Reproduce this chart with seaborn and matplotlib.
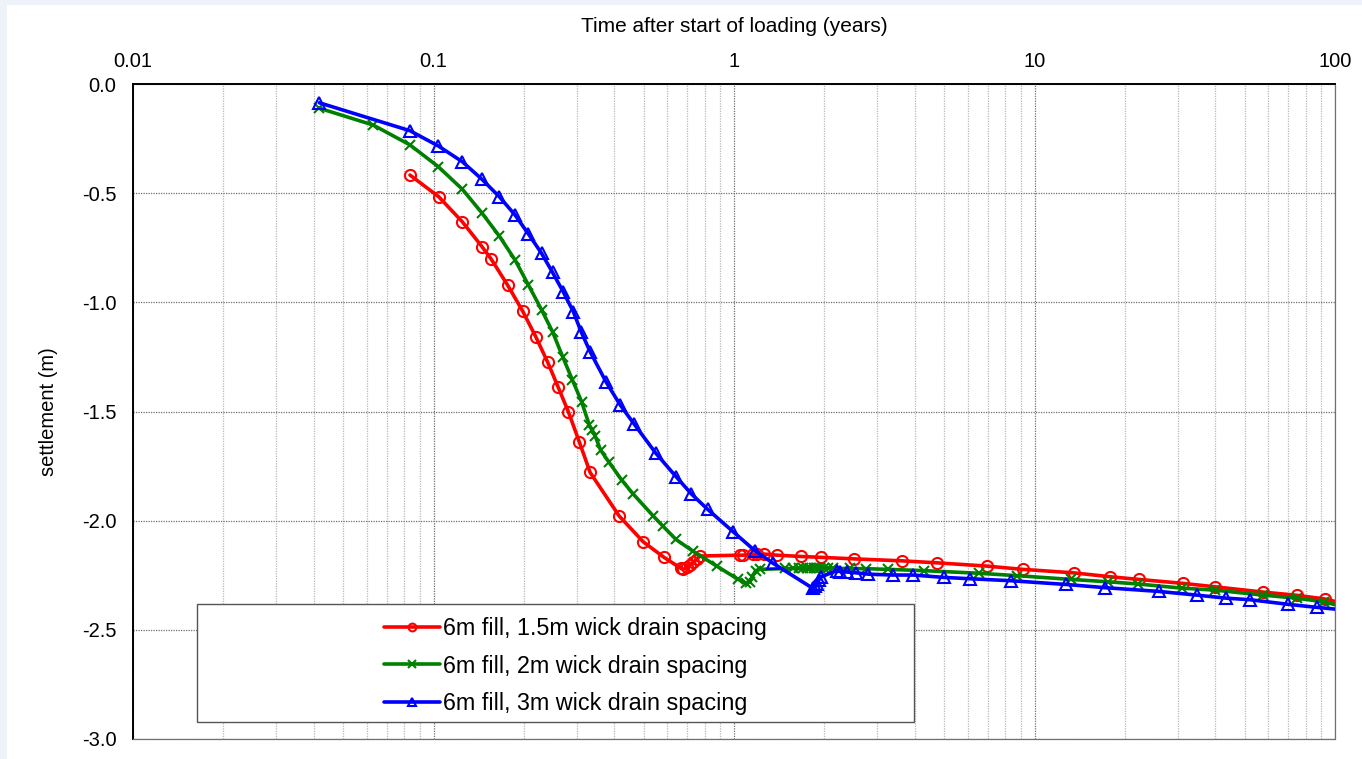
import matplotlib
matplotlib.use("Agg")
import matplotlib.pyplot as plt
import seaborn as sns
import pandas as pd
from matplotlib.patches import Rectangle
from matplotlib.ticker import FixedLocator, FixedFormatter, LogLocator, NullFormatter

# ---------------- data ----------------
red_t = [0.0835, 0.104, 0.1247, 0.145, 0.1556, 0.1766, 0.198, 0.219, 0.240, 0.260, 0.281, 0.306,
         0.332, 0.415, 0.499, 0.585, 0.667, 0.678, 0.696, 0.714, 0.733, 0.752, 0.771, 1.048, 1.074,
         1.154, 1.19, 1.26, 1.39, 1.67, 1.95, 2.51, 3.62, 4.72, 6.93, 9.13, 13.5, 17.9, 22.2, 31.1,
         39.9, 57.5, 74.9, 92.7, 100]
red_s = [-0.417, -0.516, -0.631, -0.745, -0.802, -0.922, -1.040, -1.158, -1.275, -1.389, -1.501,
         -1.641, -1.779, -1.979, -2.097, -2.168, -2.219, -2.223, -2.214, -2.203, -2.191, -2.176,
         -2.162, -2.158, -2.158, -2.154, -2.154, -2.153, -2.158, -2.164, -2.168, -2.175, -2.184,
         -2.193, -2.208, -2.223, -2.239, -2.257, -2.269, -2.287, -2.303, -2.327, -2.342, -2.359, -2.37]

green_t = [0.0417, 0.063, 0.0835, 0.1038, 0.1247, 0.1446, 0.1655, 0.1868, 0.207, 0.229, 0.249,
           0.269, 0.290, 0.311, 0.330, 0.337, 0.345, 0.360, 0.384, 0.423, 0.462, 0.539, 0.580,
           0.641, 0.729, 0.876, 1.033, 1.10, 1.13, 1.15, 1.18, 1.22, 1.48, 1.57, 1.64, 1.70, 1.75,
           1.79, 1.84, 1.89, 1.93, 1.99, 2.06, 2.14, 2.43, 2.75, 3.26, 4.3, 6.55, 8.77, 13.2, 17.6,
           22.1, 30.9, 39.9, 57.5, 74.6, 92.1, 100]
green_s = [-0.111, -0.188, -0.279, -0.379, -0.482, -0.589, -0.696, -0.806, -0.921, -1.035, -1.135,
           -1.249, -1.356, -1.455, -1.562, -1.585, -1.612, -1.677, -1.733, -1.814, -1.878, -1.979,
           -2.025, -2.086, -2.139, -2.208, -2.269, -2.287, -2.280, -2.257, -2.229, -2.223, -2.219,
           -2.219, -2.219, -2.219, -2.219, -2.219, -2.219, -2.219, -2.219, -2.219, -2.219, -2.219,
           -2.219, -2.220, -2.223, -2.229, -2.241, -2.252, -2.269, -2.280, -2.290, -2.309, -2.318,
           -2.341, -2.355, -2.372, -2.385]

blue_t = [0.0417, 0.0835, 0.1038, 0.1247, 0.1446, 0.1655, 0.1868, 0.207, 0.229, 0.249, 0.270,
          0.292, 0.310, 0.332, 0.375, 0.418, 0.465, 0.550, 0.641, 0.722, 0.817, 0.994, 1.175,
          1.352, 1.83, 1.86, 1.89, 1.92, 1.95, 2.20, 2.25, 2.37, 2.55, 2.80, 3.37, 3.94, 5.01,
          6.11, 8.33, 12.7, 17.2, 25.9, 34.7, 43.5, 52.1, 69.7, 86.9, 100]
blue_s = [-0.086, -0.214, -0.284, -0.356, -0.435, -0.516, -0.600, -0.687, -0.776, -0.863, -0.951,
          -1.043, -1.135, -1.226, -1.364, -1.470, -1.557, -1.692, -1.798, -1.878, -1.948, -2.051,
          -2.138, -2.196, -2.310, -2.300, -2.290, -2.270, -2.257, -2.229, -2.233, -2.235, -2.239,
          -2.245, -2.249, -2.249, -2.260, -2.266, -2.275, -2.292, -2.307, -2.324, -2.341, -2.355,
          -2.362, -2.383, -2.397, -2.405]

labels = ["6m fill, 1.5m wick drain spacing",
          "6m fill, 2m wick drain spacing",
          "6m fill, 3m wick drain spacing"]
x_ticks = [0.01, 0.1, 1, 10, 100]
x_ticklabels = ["0.01", "0.1", "1", "10", "100"]
y_ticks = [0.0, -0.5, -1.0, -1.5, -2.0, -2.5, -3.0]
y_ticklabels = ["0.0", "-0.5", "-1.0", "-1.5", "-2.0", "-2.5", "-3.0"]

# ---------------- style ----------------
sns.set_theme(style="white")
plt.rcParams['font.family'] = ['Liberation Sans', 'DejaVu Sans']
plt.rcParams['axes.unicode_minus'] = False
plt.rcParams['text.color'] = 'black'
plt.rcParams['axes.labelcolor'] = 'black'
plt.rcParams['xtick.color'] = 'black'
plt.rcParams['ytick.color'] = 'black'

fig = plt.figure(figsize=(13.62, 7.59), dpi=100, facecolor="#eef3fa")
bg = fig.add_axes([7 / 1362, 0, 1 - 7 / 1362, 1 - 5 / 759], zorder=-10)
bg.set_axis_off()
bg.add_patch(Rectangle((0, 0), 1, 1, transform=bg.transAxes, facecolor="white", edgecolor="none"))

ax = fig.add_axes([133 / 1362, 1 - 739 / 759, (1335 - 133) / 1362, (739 - 84) / 759])
ax.set_facecolor("white")

series = [
    (red_t, red_s, labels[0], "#ff0000", "o"),
    (green_t, green_s, labels[1], "#008000", "x"),
    (blue_t, blue_s, labels[2], "#0000ff", "^"),
]
for t, s, lab, col, mk in series:
    df = pd.DataFrame({"t": t, "s": s})
    sns.lineplot(data=df, x="t", y="s", ax=ax, sort=False, estimator=None,
                 color=col, lw=2.6, marker=mk, markersize=8 if mk != "x" else 7.5,
                 markerfacecolor="none", markeredgecolor=col, markeredgewidth=1.5,
                 markevery=slice(0, len(t) - 1), label=lab, zorder=3)

ax.set_xscale("log")
ax.set_xlim(0.01, 100)
ax.set_ylim(-3.0, 0.0)

ax.xaxis.set_major_locator(FixedLocator(x_ticks))
ax.xaxis.set_major_formatter(FixedFormatter(x_ticklabels))
ax.xaxis.set_minor_locator(LogLocator(base=10, subs=range(2, 10), numticks=20))
ax.xaxis.set_minor_formatter(NullFormatter())
ax.xaxis.tick_top()
ax.xaxis.set_label_position("top")
ax.set_yticks(y_ticks)
ax.set_yticklabels(y_ticklabels)

ax.tick_params(axis="both", which="major", labelsize=14.5, labelcolor="black", length=5,
               width=0.8, direction="out", pad=6)
ax.tick_params(axis="x", which="major", length=0, pad=9.5)
ax.tick_params(axis="x", which="minor", length=0)
ax.tick_params(axis="y", which="major", color="#808080", length=6, pad=6)

ax.set_xlabel("Time after start of loading (years)", fontsize=15, labelpad=14.5, color="black")
ax.set_ylabel("settlement (m)", fontsize=14.5, labelpad=17, color="black")

ax.grid(True, which="major", axis="both", color="#707070", linestyle=(0, (1, 1)), lw=0.9)
ax.grid(True, which="minor", axis="x", color="#b8b8b8", linestyle=(0, (1, 1)), lw=0.9)
ax.set_axisbelow(True)

for side in ["right", "bottom"]:
    ax.spines[side].set_visible(True)
    ax.spines[side].set_color("#707070")
    ax.spines[side].set_linestyle((0, (1, 1)))
    ax.spines[side].set_linewidth(0.9)
for side in ["left", "top"]:
    ax.spines[side].set_visible(True)
    ax.spines[side].set_color("black")
    ax.spines[side].set_linewidth(1.4)

# legend box
x0 = (197 - 133) / 1202
x1 = (914 - 133) / 1202
yb = (739 - 722) / 655
yt = (739 - 604) / 655
ax.add_patch(Rectangle((x0, yb), x1 - x0, yt - yb, transform=ax.transAxes,
                       facecolor="white", edgecolor="#555555", lw=1.0, zorder=4))
leg = ax.legend(loc="center left",
                bbox_to_anchor=((372 - 133) / 1202, (yb + yt) / 2 - 3 / 655),
                frameon=False, fontsize=16.8, handlelength=2.4, handletextpad=0.15,
                labelspacing=0.62, borderpad=0, markerscale=0.7)
leg.set_zorder(5)

fig.savefig("out.png", dpi=100, facecolor=fig.get_facecolor())
